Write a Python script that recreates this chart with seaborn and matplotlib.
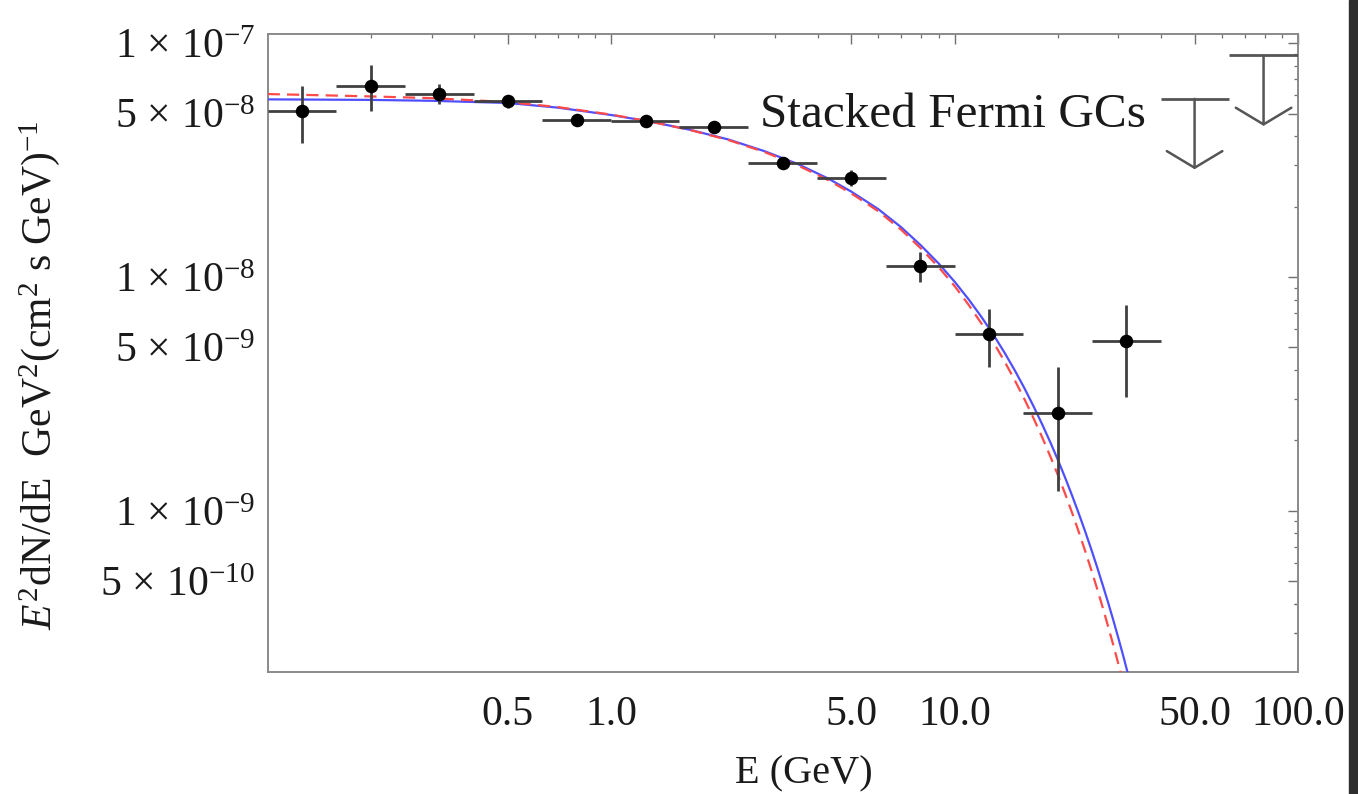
import numpy as np
import pandas as pd
import matplotlib
matplotlib.use("Agg")
import matplotlib.pyplot as plt
from matplotlib.ticker import FixedLocator, FixedFormatter, NullFormatter
from matplotlib.patches import Rectangle
import seaborn as sns

# ---- stacked globular-cluster spectrum (GeV, GeV cm^-2 s^-1) ----
energy = [0.126, 0.2, 0.316, 0.5, 0.794, 1.26, 2.0, 3.16, 5.0, 7.94, 12.6, 20.0, 31.6]
e_lo = [0.1, 0.158, 0.251, 0.398, 0.631, 1.0, 1.58, 2.51, 3.98, 6.31, 10.0, 15.8, 25.1]
e_hi = [0.158, 0.251, 0.398, 0.631, 1.0, 1.58, 2.51, 3.98, 6.31, 10.0, 15.8, 25.1, 39.8]
flux = [5.12e-8, 6.55e-8, 6.08e-8, 5.64e-8, 4.68e-8, 4.63e-8, 4.37e-8,
        3.07e-8, 2.66e-8, 1.11e-8, 5.73e-9, 2.63e-9, 5.32e-9]
flux_lo = [3.74e-8, 5.12e-8, 5.47e-8, 5.30e-8, 4.55e-8, 4.52e-8, 4.25e-8,
           2.93e-8, 2.46e-8, 9.53e-9, 4.12e-9, 1.22e-9, 3.07e-9]
flux_hi = [6.53e-8, 8.03e-8, 6.67e-8, 5.97e-8, 4.81e-8, 4.74e-8, 4.49e-8,
           3.22e-8, 2.87e-8, 1.28e-8, 7.32e-9, 4.10e-9, 7.56e-9]

# upper limits in the two highest bins
ul_energy = [50.0, 79.4]
ul_lo = [39.8, 63.1]
ul_hi = [63.1, 100.0]
ul_flux = [5.78e-8, 8.86e-8]

# ---- model spectra ----
model_energy = [0.1, 0.2, 0.3, 0.5, 0.7, 1.0, 1.3, 1.7, 2.2, 2.8, 3.5, 4.3, 5.0,
                6.0, 7.0, 8.0, 9.0, 10.0, 11.0, 12.0, 13.0, 14.0, 15.0, 16.0,
                17.0, 18.0, 19.0, 20.0, 21.0, 22.0, 23.0, 24.0, 25.0, 26.0,
                27.0, 28.0, 29.0, 30.0, 31.0, 32.0, 33.0]
model_blue = [5.75e-8, 5.72e-8, 5.67e-8, 5.55e-8, 5.30e-8, 4.93e-8, 4.62e-8,
              4.26e-8, 3.87e-8, 3.45e-8, 3.04e-8, 2.63e-8, 2.32e-8, 1.95e-8,
              1.63e-8, 1.36e-8, 1.14e-8, 9.55e-9, 8.01e-9, 6.72e-9, 5.64e-9,
              4.73e-9, 3.97e-9, 3.33e-9, 2.79e-9, 2.34e-9, 1.965e-9, 1.649e-9,
              1.383e-9, 1.160e-9, 9.73e-10, 8.17e-10, 6.85e-10, 5.75e-10,
              4.82e-10, 4.05e-10, 3.40e-10, 2.85e-10, 2.39e-10, 2.00e-10,
              1.68e-10]
model_red = [6.06e-8, 5.92e-8, 5.82e-8, 5.60e-8, 5.33e-8, 4.95e-8, 4.62e-8,
             4.25e-8, 3.85e-8, 3.42e-8, 3.00e-8, 2.59e-8, 2.28e-8, 1.91e-8,
             1.59e-8, 1.32e-8, 1.10e-8, 9.15e-9, 7.59e-9, 6.30e-9, 5.23e-9,
             4.34e-9, 3.60e-9, 2.99e-9, 2.48e-9, 2.06e-9, 1.71e-9, 1.42e-9,
             1.18e-9, 9.79e-10, 8.12e-10, 6.74e-10, 5.60e-10, 4.65e-10,
             3.86e-10, 3.20e-10, 2.66e-10, 2.21e-10, 1.83e-10, 1.52e-10,
             1.26e-10]

x_ticks = [0.5, 1.0, 5.0, 10.0, 50.0, 100.0]
x_ticklabels = ["0.5", "1.0", "5.0", "10.0", "50.0", "100.0"]
y_ticks = [1e-7, 5e-8, 1e-8, 5e-9, 1e-9, 5e-10]
y_ticklabels = [r"$1\,\times\,10^{-7}$", r"$5\,\times\,10^{-8}$", r"$1\,\times\,10^{-8}$",
                r"$5\,\times\,10^{-9}$", r"$1\,\times\,10^{-9}$", r"$5\,\times\,10^{-10}$"]

sns.set_theme(style="white")
plt.rcParams["font.family"] = ["Liberation Serif", "DejaVu Serif"]
plt.rcParams["mathtext.fontset"] = "custom"
plt.rcParams["mathtext.rm"] = "Liberation Serif"
plt.rcParams["mathtext.it"] = "Liberation Serif:italic"
plt.rcParams["mathtext.bf"] = "Liberation Serif:bold"

fig = plt.figure(figsize=(13.58, 7.94), dpi=100)
ax = fig.add_axes([0.1971, 0.1537, 0.7587, 0.8041])
ax.set_xscale("log")
ax.set_yscale("log")
ax.set_xlim(0.1, 100.0)
ax.set_ylim(2.044e-10, 1.1e-7)

models = pd.DataFrame({"E": model_energy, "blue": model_blue, "red": model_red})
sns.lineplot(data=models, x="E", y="blue", ax=ax, color="#4f4fff",
             linewidth=1.6, sort=False, zorder=3)
sns.lineplot(data=models, x="E", y="red", ax=ax, color="#ff4a4a",
             linewidth=1.6, sort=False, zorder=3, linestyle=(0, (5.5, 3.2)))

# error crosses
err_col = "#404040"
flux_a = np.array(flux)
ax.errorbar(energy, flux,
            xerr=[np.array(energy) - np.array(e_lo), np.array(e_hi) - np.array(energy)],
            yerr=[flux_a - np.array(flux_lo), np.array(flux_hi) - flux_a],
            fmt="none", ecolor=err_col, elinewidth=2.0, capsize=0, zorder=4)
pts = pd.DataFrame({"E": energy, "F": flux})
sns.scatterplot(data=pts, x="E", y="F", ax=ax, color="black", s=95,
                edgecolor="black", linewidth=0, zorder=5)

# upper limits: bar across the bin plus an open downward arrow
ax.hlines(ul_flux, ul_lo, ul_hi, colors="#555555", linewidth=2.0, zorder=4,
          clip_on=True)
for e, f in zip(ul_energy, ul_flux):
    ax.annotate("", xy=(e, f * 0.5), xytext=(e, f),
                arrowprops=dict(arrowstyle="->,head_length=12,head_width=20",
                                color="#555555", lw=1.8, mutation_scale=1,
                                shrinkA=0, shrinkB=0), zorder=4)

ax.text(0.478, 0.872, "Stacked Fermi GCs", transform=ax.transAxes,
        fontsize=35.5, ha="left", va="center", color="#1a1a1a")

# axes frame and ticks
for s in ax.spines.values():
    s.set_color("#8a8a8a")
    s.set_linewidth(1.4)
ax.xaxis.set_major_locator(FixedLocator(x_ticks))
ax.xaxis.set_major_formatter(FixedFormatter(x_ticklabels))
x_minor = [v * d for d in (0.1, 1.0, 10.0) for v in range(2, 10) if v * d not in x_ticks]
ax.xaxis.set_minor_locator(FixedLocator(x_minor))
ax.xaxis.set_minor_formatter(NullFormatter())
ax.yaxis.set_major_locator(FixedLocator(y_ticks))
ax.yaxis.set_major_formatter(FixedFormatter(y_ticklabels))
y_minor = [v * 10.0 ** p for p in (-10, -9, -8) for v in range(1, 10)
           if v not in (1, 5)] + [2e-10, 3e-10, 4e-10]
ax.yaxis.set_minor_locator(FixedLocator(y_minor))
ax.yaxis.set_minor_formatter(NullFormatter())
ax.tick_params(which="both", direction="in", top=True, right=True,
               color="#707070", labelcolor="#1a1a1a")
ax.tick_params(which="major", length=7.5, width=1.0, labelsize=30)
ax.tick_params(which="minor", length=3.0, width=0.9)
ax.tick_params(axis="x", which="major", pad=17)
ax.tick_params(axis="y", which="major", pad=9)

ax.set_xlabel("E (GeV)", fontsize=29, color="#1a1a1a")
ax.set_ylabel(r"$E^2$dN/dE  GeV$^2$(cm$^2$ s GeV)$^{-1}$", fontsize=30, color="#1a1a1a")
ax.xaxis.set_label_coords(0.52, -0.16)
ax.xaxis.label.set_va("center")
ax.yaxis.set_label_coords(-0.221, 0.465)
ax.yaxis.label.set_va("center")

# dark border strip along the right edge
fig.patches.append(Rectangle((0.9934, 0.0), 0.0066, 1.0, transform=fig.transFigure,
                             color="#2e2e2e", zorder=0))

fig.savefig("out.png", dpi=100, facecolor="white")
